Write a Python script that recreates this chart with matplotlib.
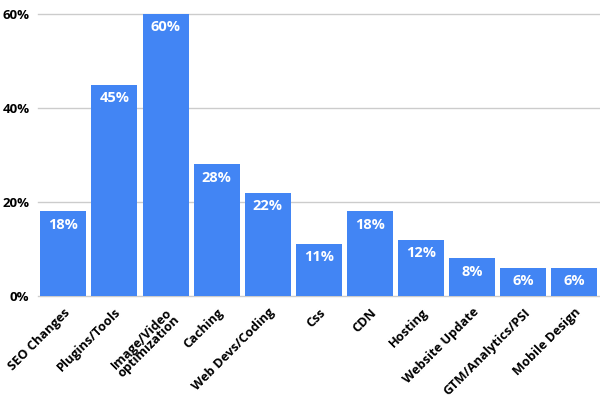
import matplotlib.pyplot as plt
import matplotlib.transforms as mtransforms
import numpy as np

# data
categories = ["SEO Changes", "Plugins/Tools", "Image/Video\noptimization", "Caching",
              "Web Devs/Coding", "Css", "CDN", "Hosting", "Website Update",
              "GTM/Analytics/PSI", "Mobile Design"]
values = [18, 45, 60, 28, 22, 11, 18, 12, 8, 6, 6]
yticks = [0, 20, 40, 60]

plt.rcParams['font.family'] = ['Open Sans', 'DejaVu Sans']

fig = plt.figure(figsize=(6, 4), dpi=100)
ax = fig.add_axes([0.063, 0.26, 0.937, 0.705])

x = np.arange(len(categories))
bars = ax.bar(x, values, width=0.9, color="#4285f4", zorder=3)

for b, v in zip(bars, values):
    ax.text(b.get_x() + b.get_width() / 2, v - 1.3, f"{v}%", ha="center", va="top",
            color="white", fontsize=10.5, fontweight="bold", zorder=4)

ax.set_xlim(-0.5, len(categories) - 0.5)
ax.set_ylim(0, 60)
ax.set_yticks(yticks)
ax.set_yticklabels([f"{t}%" for t in yticks], fontsize=9.5, fontweight="bold")
ax.grid(axis="y", color="#cccccc", linewidth=1, zorder=0)
for gl in ax.get_ygridlines():
    gl.set_clip_on(False)

ax.set_xticks(x)
ax.set_xticklabels(categories, rotation=45, ha="right", rotation_mode="anchor",
                   fontsize=9.2, fontweight="bold", linespacing=0.75)
# nudge the slanted labels a little to the right, like the original
shift = mtransforms.ScaledTranslation(5 / 72, 0, fig.dpi_scale_trans)
for lab in ax.get_xticklabels():
    lab.set_transform(lab.get_transform() + shift)
ax.tick_params(axis="x", length=0, pad=7)
ax.tick_params(axis="y", length=0, pad=6)
for s in ax.spines.values():
    s.set_visible(False)

fig.savefig("out.png", dpi=100)
